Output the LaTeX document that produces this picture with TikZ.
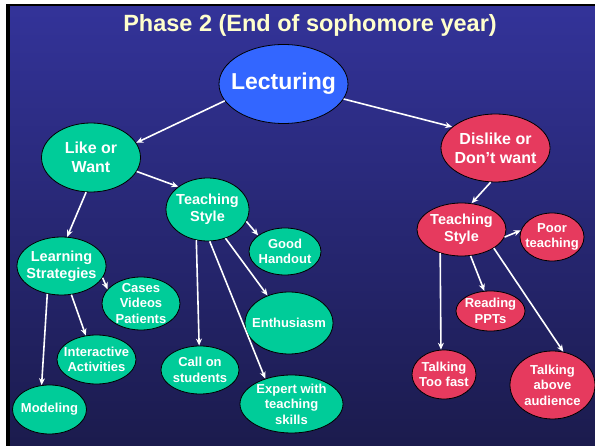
\documentclass[tikz,border=0pt]{standalone}
\usepackage{fontspec}
\setmainfont{Liberation Sans}
\usetikzlibrary{shapes.geometric,arrows.meta}
\definecolor{bgtop}{RGB}{51,51,153}
\definecolor{bgmid}{RGB}{42,42,125}
\definecolor{bgbot}{RGB}{27,27,77}
\definecolor{lblue}{RGB}{51,102,255}
\definecolor{lgreen}{RGB}{0,204,153}
\definecolor{lred}{RGB}{230,58,94}
\definecolor{ttlc}{RGB}{255,255,204}

\begin{document}
\begin{tikzpicture}[x=1pt,y=-1pt,
  bub/.style={ellipse, draw=black, line width=0.8pt, inner sep=0pt},
  gbub/.style={bub, fill=lgreen},
  rbub/.style={bub, fill=lred},
  txt/.style={text=white, align=center, inner sep=0pt},
  tbig/.style={txt, font=\fontsize{23}{27}\selectfont\bfseries},
  tmid/.style={txt, font=\fontsize{16}{19}\selectfont\bfseries},
  tnorm/.style={txt, font=\fontsize{14.5}{17}\selectfont\bfseries},
  tsmall/.style={txt, font=\fontsize{13}{15.5}\selectfont\bfseries},
  arr/.style={draw=white, line width=1.6pt, -{Stealth[length=7pt,width=6pt]}}]
\useasboundingbox (0,0) rectangle (595,446);
\fill[white] (0,0) rectangle (595,446);
\fill[black] (6,4) rectangle (595,446);
\shade[top color=bgtop, middle color=bgmid, bottom color=bgbot] (10,7) rectangle (595,446);

\node[anchor=base, text=ttlc, font=\fontsize{23.5}{28}\selectfont\bfseries] (ttl) at (310,32) {Phase 2 (End of sophomore year)};

\node[bub, fill=lblue, minimum width=129pt, minimum height=79pt, label={[tbig]center:Lecturing}] (lec) at (283.5,84) {};

\node[gbub, minimum width=99pt, minimum height=69pt, label={[tmid]center:Like or\\Want}] (like) at (91,157.5) {};
\node[gbub, minimum width=83pt, minimum height=63pt, label={[tnorm]center:Teaching\\Style}] (ts1) at (207.5,209.5) {};
\node[gbub, minimum width=72pt, minimum height=47pt, label={[tsmall]center:Good\\Handout}] (hand) at (285,251.5) {};
\node[gbub, minimum width=89pt, minimum height=58pt, label={[tnorm]center:Learning\\Strategies}] (learn) at (61.5,266) {};
\node[gbub, minimum width=78pt, minimum height=53pt, label={[tsmall]center:Cases\\Videos\\Patients}] (cases) at (141,303.5) {};
\node[gbub, minimum width=88pt, minimum height=62pt, label={[tsmall]center:Enthusiasm}] (enth) at (289,323) {};
\node[gbub, minimum width=79pt, minimum height=49pt, label={[tsmall]center:Interactive\\Activities}] (inter) at (96.5,359.5) {};
\node[gbub, minimum width=78pt, minimum height=48pt, label={[tsmall]center:Call on\\students}] (call) at (200,370) {};
\node[gbub, minimum width=74pt, minimum height=49pt, label={[tsmall]center:Modeling}] (model) at (49.5,409.5) {};
\node[gbub, minimum width=103pt, minimum height=58pt, label={[tsmall]center:Expert with\\teaching\\skills}] (expert) at (291.5,404) {};

\node[rbub, minimum width=109pt, minimum height=68pt, label={[tmid]center:Dislike or\\Don’t want}] (dis) at (495.5,148) {};
\node[rbub, minimum width=89pt, minimum height=53pt, label={[tnorm]center:Teaching\\Style}] (ts2) at (461.5,229.5) {};
\node[rbub, minimum width=64pt, minimum height=48pt, label={[tsmall]center:Poor\\teaching}] (poor) at (552,237) {};
\node[rbub, minimum width=69pt, minimum height=40pt, label={[tsmall]center:Reading\\PPTs}] (read) at (490.5,311) {};
\node[rbub, minimum width=64pt, minimum height=49pt, label={[tsmall]center:Talking\\Too fast}] (fast) at (444,374.5) {};
\node[rbub, minimum width=85pt, minimum height=68pt, label={[tsmall]center:Talking\\above\\audience}] (above) at (552.5,385) {};

\foreach \a/\b in {lec.196/like.18, lec.-14/dis.154, like.-17/ts1.142, like.-98/learn.79,
  ts1.-17/hand.149, ts1.-110/call.92, ts1.-86/expert.136, ts1.-58/enth.128,
  learn.-16/cases.157, learn.-71/inter.114, learn.-117/model.108,
  dis.-98/ts2.69, ts2.-10/poor.168, ts2.-71/read.107, ts2.-132/fast.97, ts2.-30/above.72}
  \draw[arr] (\a) -- (\b);

\end{tikzpicture}
\end{document}
